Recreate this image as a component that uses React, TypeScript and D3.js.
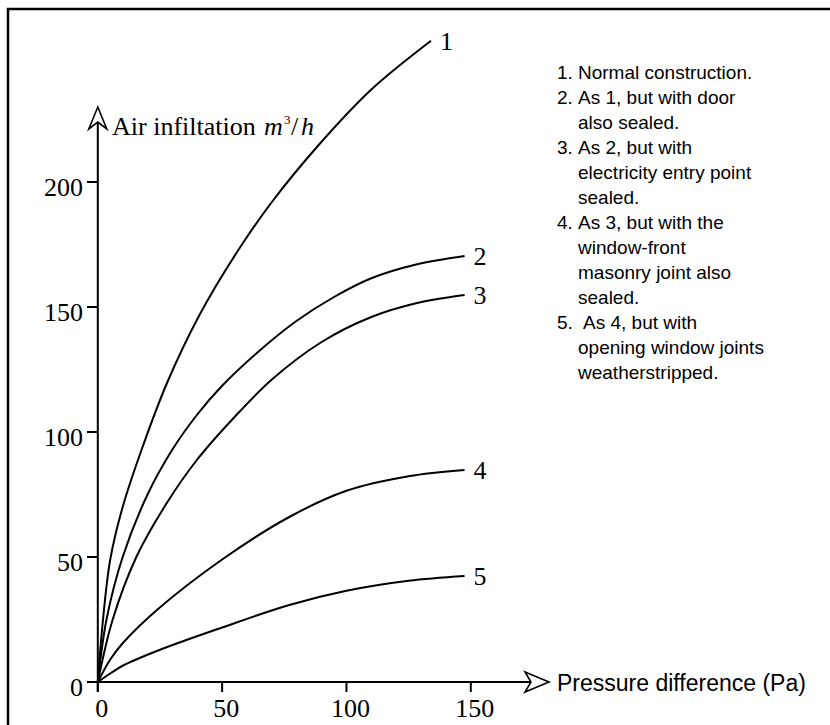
import React from "react";
import * as d3 from "d3";

const xTicks = [0, 50, 100, 150];
const yTicks = [0, 50, 100, 150, 200];

const curve1: [number, number][] = [
  [0, 0], [2, 24], [5, 49], [10, 70], [18, 94], [28, 120], [41, 147], [56, 172],
  [70, 192], [89, 215], [110, 237], [134, 256.5],
];
const curve2: [number, number][] = [
  [0, 0], [3.5, 25], [10, 50], [20, 75], [30, 93], [40, 107], [50, 118.5], [65, 132.5],
  [80, 144.5], [95, 154], [110, 161.5], [128, 167], [147.5, 170.4],
];
const curve3: [number, number][] = [
  [0, 0], [6, 25], [15.5, 50], [28, 72], [40, 89], [55, 106], [70, 121], [90, 136],
  [110, 146], [128, 151.5], [147.5, 154.8],
];
const curve4: [number, number][] = [
  [0, 0], [5, 9], [10, 15.5], [24, 29], [50, 49], [77, 66], [100, 76.5], [125, 82.3], [147.5, 84.8],
];
const curve5: [number, number][] = [
  [0, 0], [5, 3.4], [10, 6.5], [24, 12.5], [50, 21.8], [77, 30.8], [100, 36.5], [125, 40.5], [147.5, 42.4],
];
const seriesLabels = ["1", "2", "3", "4", "5"];
const series = [curve1, curve2, curve3, curve4, curve5];

const legendLines: { num: string; text: string }[][] = [
  [{ num: "1.", text: "Normal construction." }],
  [{ num: "2.", text: "As 1, but with door" }, { num: "", text: "also sealed." }],
  [{ num: "3.", text: "As 2, but with" }, { num: "", text: "electricity entry point" }, { num: "", text: "sealed." }],
  [{ num: "4.", text: "As 3, but with the" }, { num: "", text: "window-front" }, { num: "", text: "masonry joint also" }, { num: "", text: "sealed." }],
  [{ num: "5.", text: "As 4, but with" }, { num: "", text: "opening window joints" }, { num: "", text: "weatherstripped." }],
];

const xLabel = "Pressure difference (Pa)";
const yLabel = "Air infiltation ";

export default function App() {
  const W = 830, H = 725;
  const x = d3.scaleLinear().domain([0, 150]).range([97.8, 470.8]);
  const y = d3.scaleLinear().domain([0, 200]).range([682, 182]);
  const line = d3.line<[number, number]>()
    .x(d => x(d[0])).y(d => y(d[1]))
    .curve(d3.curveCatmullRom.alpha(0.5));
  const serif = "'Liberation Serif', 'Times New Roman', serif";
  const sans = "'Liberation Sans', Arial, sans-serif";
  const x0 = x(0), y0 = y(0);

  const flat: { num: string; text: string }[] = legendLines.flat();

  return (
    <svg width={W} height={H} style={{ position: "absolute", left: 0, top: 0, background: "#fff" }}>
      <rect x={8} y={9} width={W + 20} height={H + 20} fill="#fff" stroke="#000" strokeWidth={2.5} />
      {/* axes */}
      <line x1={x0} y1={692} x2={x0} y2={122} stroke="#000" strokeWidth={2} />
      <line x1={87} y1={y0} x2={531} y2={y0} stroke="#000" strokeWidth={2} />
      <path d={`M${x0},107 L${x0 + 9},129 L${x0},122 L${x0 - 9},129 Z`} fill="#fff" stroke="#000" strokeWidth={1.6} />
      <path d={`M549,${y0} L525,${y0 - 10} L531,${y0} L525,${y0 + 10} Z`} fill="#fff" stroke="#000" strokeWidth={1.6} />
      {yTicks.map(t => (
        <g key={"y" + t}>
          <line x1={87} x2={x0} y1={y(t)} y2={y(t)} stroke="#000" strokeWidth={2} />
          <text x={83} y={y(t) + 14} textAnchor="end" fontFamily={serif} fontSize={26}>{t}</text>
        </g>
      ))}
      {xTicks.map(t => (
        <g key={"x" + t}>
          <line x1={x(t)} x2={x(t)} y1={y0} y2={692} stroke="#000" strokeWidth={2} />
          <text x={x(t) + 4} y={717} textAnchor="middle" fontFamily={serif} fontSize={26}>{t}</text>
        </g>
      ))}
      <text x={112} y={135} fontFamily={serif} fontSize={26}>
        {yLabel}
        <tspan fontStyle="italic" x={264}>m</tspan>
        <tspan fontSize={13} x={284} dy={-11}>3</tspan>
        <tspan x={291} dy={11}>/</tspan>
        <tspan fontStyle="italic" x={301}>h</tspan>
      </text>
      <text x={557} y={691} fontFamily={sans} fontSize={23}>{xLabel}</text>
      {series.map((s, i) => {
        const last = s[s.length - 1];
        return (
          <g key={"s" + i}>
            <path d={line(s) || ""} fill="none" stroke="#000" strokeWidth={2} />
            <text x={x(last[0]) + 9} y={y(last[1]) + 9} fontFamily={serif} fontSize={26}>{seriesLabels[i]}</text>
          </g>
        );
      })}
      {flat.map((l, i) => (
        <text key={"l" + i} y={79 + i * 25} fontFamily={sans} fontSize={19}>
          {l.num ? <tspan x={557}>{l.num}</tspan> : null}
          <tspan x={l.num === "5." ? 583 : 578}>{l.text}</tspan>
        </text>
      ))}
    </svg>
  );
}
